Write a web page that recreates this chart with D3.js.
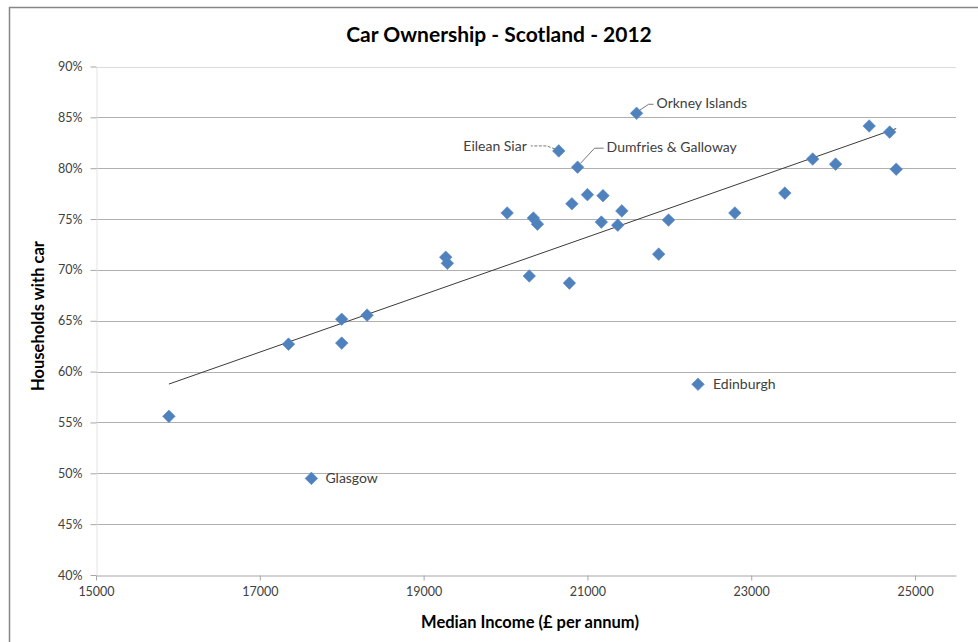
<!DOCTYPE html>
<html>
<head>
<meta charset="utf-8">
<script src="https://cdn.jsdelivr.net/npm/d3@7"></script>
<style>
  body { margin: 0; background: #fff; }
  text { font-family: Lato, "Open Sans", sans-serif; }
</style>
</head>
<body>
<div id="chart"></div>
<script>
const width = 978;
const height = 642;
const margin = {left: 96, right: 22, top: 66.5, bottom: 67};

// median income (£ per annum) by council area
const income = [15890, 17350, 18000, 18000, 18310, 17630, 19270, 19290, 20020, 20290,
                20340, 20390, 20780, 20810, 21000, 21190, 21420, 21170, 21370, 21990,
                21870, 21600, 20650, 20880, 24440, 24690, 23750, 24030, 24770, 23410,
                22800, 22350];
// share of households with a car (%)
const carShare = [55.6, 62.7, 65.15, 62.8, 65.55, 49.5, 71.25, 70.65, 75.6, 69.4,
                  75.1, 74.5, 68.7, 76.5, 77.4, 77.3, 75.8, 74.7, 74.4, 74.9,
                  71.55, 85.4, 81.7, 80.1, 84.15, 83.55, 80.9, 80.4, 79.9, 77.55,
                  75.6, 58.75];
const names = ['', '', '', '', '', 'Glasgow', '', '', '', '',
               '', '', '', '', '', '', '', '', '', '',
               '', 'Orkney Islands', 'Eilean Siar', 'Dumfries & Galloway', '', '', '', '', '', '',
               '', 'Edinburgh'];
const xTicks = [15000, 17000, 19000, 21000, 23000, 25000];
const yTicks = [40, 45, 50, 55, 60, 65, 70, 75, 80, 85, 90];

const data = income.map((d, i) => ({x: d, y: carShare[i], name: names[i]}));

const svg = d3.select('#chart')
  .append('svg')
  .attr('width', width)
  .attr('height', height);

// chart border (runs off right/bottom like the original)
svg.append('rect')
  .attr('x', 9.5).attr('y', 7.5)
  .attr('width', 1000).attr('height', 700)
  .attr('fill', 'none')
  .attr('stroke', '#868686')
  .attr('stroke-width', 1.5);

const xScale = d3.scaleLinear()
  .domain([15000, 25500])
  .range([margin.left, width - margin.right]);

const yScale = d3.scaleLinear()
  .domain([40, 90])
  .range([height - margin.bottom, margin.top]);

// horizontal gridlines
svg.append('g')
  .selectAll('line')
  .data(yTicks.filter(t => t > 40))
  .enter()
  .append('line')
  .attr('x1', margin.left)
  .attr('x2', width - margin.right)
  .attr('y1', d => Math.round(yScale(d)) + 0.5)
  .attr('y2', d => Math.round(yScale(d)) + 0.5)
  .attr('stroke', d => d === 90 ? '#dcdcdc' : '#b0b0b0')
  .attr('stroke-width', 1);

//x-Axis
const xAxis = d3.axisBottom(xScale)
  .tickValues(xTicks)
  .tickFormat(d3.format('d'))
  .tickSize(5)
  .tickSizeOuter(0)
  .tickPadding(7);

const gx = svg.append('g')
  .attr('transform', 'translate(0,' + (Math.round(yScale(40)) + 0.5) + ')')
  .call(xAxis);
gx.select('.domain').attr('stroke', '#a6a6a6');
gx.selectAll('.tick line').attr('stroke', '#a6a6a6');
gx.selectAll('.tick text')
  .style('font-size', '12.5px')
  .attr('fill', '#404040');

//y-Axis
const yAxis = d3.axisLeft(yScale)
  .tickValues(yTicks)
  .tickFormat(d => d + '%')
  .tickSize(6)
  .tickSizeOuter(0)
  .tickPadding(8);

const gy = svg.append('g')
  .attr('transform', 'translate(' + (margin.left + 0.5) + ',0)')
  .call(yAxis);
gy.select('.domain').attr('stroke', '#e4e4e4');
gy.selectAll('.tick line').attr('stroke', '#a6a6a6');
gy.selectAll('.tick text')
  .style('font-size', '12.5px')
  .attr('fill', '#404040');

// title
svg.append('text')
  .attr('x', 499)
  .attr('y', 42)
  .attr('text-anchor', 'middle')
  .style('font-size', '21px')
  .style('font-weight', 'bold')
  .attr('fill', '#000')
  .text('Car Ownership - Scotland - 2012');

//Label for x-Axis
svg.append('text')
  .attr('x', 530)
  .attr('y', 628)
  .attr('text-anchor', 'middle')
  .style('font-size', '16.5px')
  .style('font-weight', 'bold')
  .text('Median Income (£ per annum)');

//Label for y-Axis
svg.append('text')
  .attr('transform', 'translate(44,316) rotate(-90)')
  .attr('text-anchor', 'middle')
  .style('font-size', '16.5px')
  .style('font-weight', 'bold')
  .text('Households with car');

// linear trendline (least squares over the points)
const mx = d3.mean(data, d => d.x);
const my = d3.mean(data, d => d.y);
const slope = d3.sum(data, d => (d.x - mx) * (d.y - my)) / d3.sum(data, d => (d.x - mx) * (d.x - mx));
const intercept = my - slope * mx;
const xExt = d3.extent(data, d => d.x);

svg.append('path')
  .datum(xExt.map(x => ({x: x, y: intercept + slope * x})))
  .attr('d', d3.line().x(d => xScale(d.x)).y(d => yScale(d.y)))
  .attr('fill', 'none')
  .attr('stroke', '#3a3a3a')
  .attr('stroke-width', 1);

// points (diamonds)
const r = 6.3;
svg.append('g')
  .selectAll('path')
  .data(data)
  .enter()
  .append('path')
  .attr('transform', d => 'translate(' + xScale(d.x) + ',' + yScale(d.y) + ')')
  .attr('d', 'M0,' + (-r) + 'L' + r + ',0L0,' + r + 'L' + (-r) + ',0Z')
  .attr('fill', '#4f81bd')
  .attr('stroke', '#5b8cc6')
  .attr('stroke-width', 0.6);

// data labels, offset from their point
const labelStyle = {
  'Glasgow': {dx: 14, dy: 5, anchor: 'start', leader: null},
  'Edinburgh': {dx: 15, dy: 5, anchor: 'start', leader: null},
  'Orkney Islands': {dx: 20, dy: -5, anchor: 'start', leader: [[3, -3], [12, -9], [17, -9]]},
  'Eilean Siar': {dx: -32, dy: 0, anchor: 'end', leader: [[-4, -2], [-12, -5], [-28, -5]]},
  'Dumfries & Galloway': {dx: 29, dy: -15, anchor: 'start', leader: [[3, -4], [17, -19], [26, -19]]}
};

const labelled = svg.append('g')
  .selectAll('g')
  .data(data.filter(d => d.name))
  .enter()
  .append('g')
  .attr('transform', d => 'translate(' + xScale(d.x) + ',' + yScale(d.y) + ')');

labelled.filter(d => labelStyle[d.name].leader)
  .append('path')
  .attr('d', d => d3.line()(labelStyle[d.name].leader))
  .attr('fill', 'none')
  .attr('stroke', '#555')
  .attr('stroke-width', 0.8)
  .attr('stroke-dasharray', d => d.name === 'Eilean Siar' ? '3,1.5' : null);

labelled.append('text')
  .attr('x', d => labelStyle[d.name].dx)
  .attr('y', d => labelStyle[d.name].dy)
  .attr('text-anchor', d => labelStyle[d.name].anchor)
  .style('font-size', '14px')
  .attr('fill', '#404040')
  .text(d => d.name);
</script>
</body>
</html>
